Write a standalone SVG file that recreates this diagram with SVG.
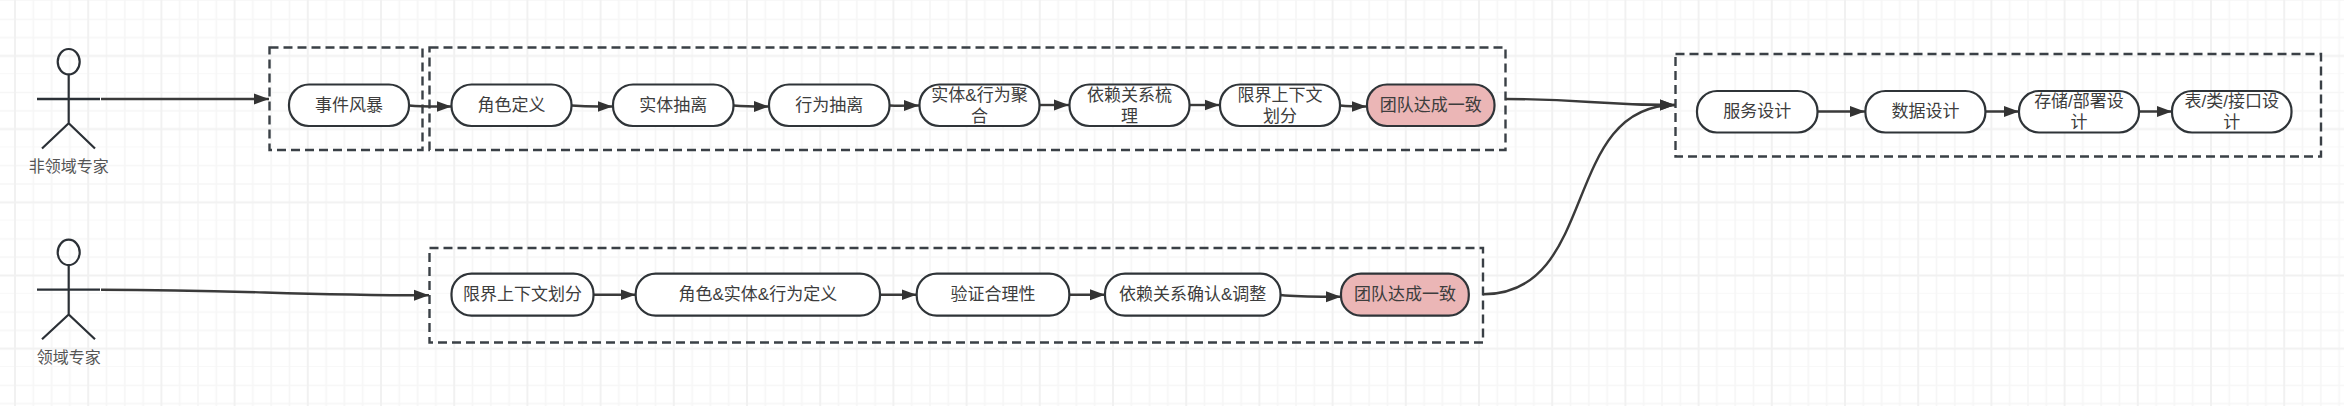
<svg xmlns="http://www.w3.org/2000/svg" width="2344" height="406" viewBox="0 0 2344 406">
<style>
.t{font-family:"Liberation Sans","Noto Sans CJK SC",sans-serif;font-size:17px;fill:#3d3d3d;text-anchor:middle;dominant-baseline:central}
.a{font-size:16px;fill:#555}
.n{fill:#fff;stroke:#2f3438;stroke-width:2.2}
.p{fill:#ebb6b6}
.d{fill:none;stroke:#3a4046;stroke-width:2.4;stroke-dasharray:9 5}
.c{fill:none;stroke:#3a3a3a;stroke-width:2.4;marker-end:url(#ah)}
.s{fill:none;stroke:#2b3036;stroke-width:2.2}
.w{stroke:#2b3036;stroke-width:2.6}
</style>
<defs>
<marker id="ah" markerUnits="userSpaceOnUse" markerWidth="16" markerHeight="12" refX="15" refY="6" orient="auto"><path d="M0,0.5L15,6L0,11.5Z" fill="#333"/></marker>
<pattern id="g" patternUnits="userSpaceOnUse" x="15" y="1" width="73.2" height="73.2">
<path d="M18.3,0V73.2M36.6,0V73.2M54.9,0V73.2M0,18.3H73.2M0,36.6H73.2M0,73.2H73.2" stroke="#f6f6f6" stroke-width="1.6" fill="none"/>
<path d="M0,0V73.2M73.2,0V73.2M0,54.9H73.2" stroke="#f1f1f1" stroke-width="2" fill="none"/>
</pattern>
</defs>
<rect id="background" width="2344" height="406" fill="#fff"/>
<rect id="grid" width="2344" height="406" fill="url(#g)"/>
<g id="group-storm"><rect class="d" x="269.5" y="47.5" width="153" height="102.5"/></g>
<g id="group-nonexpert"><rect class="d" x="429.5" y="47.5" width="1076" height="102.5"/></g>
<g id="group-expert"><rect class="d" x="429.5" y="248" width="1053.5" height="94.5"/></g>
<g id="group-design"><rect class="d" x="1675.5" y="54" width="645.5" height="102.5"/></g>
<g id="connectors">
<path class="c" d="M101,99H269"/>
<path class="c" d="M409,105.5C425,107 435,106.5 451.5,106.5"/>
<path class="c" d="M571.5,105.5C590,107 595,106.5 612.5,106.5"/>
<path class="c" d="M733.5,105.5C748,106.5 755,106.5 769,106.5"/>
<path class="c" d="M890,105.5C900,106 908,105.5 919,105.5"/>
<path class="c" d="M1040,105H1069"/>
<path class="c" d="M1190,105H1219.5"/>
<path class="c" d="M1340,105.5C1350,106.5 1355,106.5 1366.5,106.5"/>
<path class="c" d="M1505.5,99C1590,99 1590,105 1675,105"/>
<path class="c" d="M1817.5,111.5H1865"/>
<path class="c" d="M1985.5,111.5H2019"/>
<path class="c" d="M2139,111.5H2172"/>
<path class="c" d="M101,289.7C250,289.7 280,295.3 429,295.3"/>
<path class="c" d="M593.5,294.7H635.5"/>
<path class="c" d="M880,294.7H916.5"/>
<path class="c" d="M1069.5,294.7H1105"/>
<path class="c" d="M1280.5,295C1300,297 1315,296.7 1341,296.7"/>
<path class="c" d="M1483,294.3C1600,294.3 1560,105 1675,105"/>
</g>
<g id="actor-nonexpert"><ellipse class="s" cx="68.7" cy="61.7" rx="11" ry="12.7"/><path class="s" d="M68.7,74.4V123.3M42,148.5L68.7,123.3L95,148.5"/><path class="w" d="M37,99H100"/><text class="t a" x="68.7" y="166.5">非领域专家</text></g>
<g id="actor-expert"><ellipse class="s" cx="68.7" cy="252.4" rx="11" ry="12.7"/><path class="s" d="M68.7,265V314.5M42,339.3L68.7,314.5L95,339.3"/><path class="s" d="M37,289.7H100"/><text class="t a" x="68.7" y="357.5">领域专家</text></g>
<g id="n1"><rect class="n" x="289" y="84.5" width="120" height="41.5" rx="20"/><text class="t" x="349" y="105.5">事件风暴</text></g>
<g id="n2"><rect class="n" x="451.5" y="84.5" width="120" height="41.5" rx="20"/><text class="t" x="511.5" y="105.5">角色定义</text></g>
<g id="n3"><rect class="n" x="613" y="84.5" width="120.5" height="41.5" rx="20"/><text class="t" x="673.2" y="105.5">实体抽离</text></g>
<g id="n4"><rect class="n" x="769" y="84.5" width="120.5" height="41.5" rx="20"/><text class="t" x="829.2" y="105.5">行为抽离</text></g>
<g id="n5"><rect class="n" x="919.5" y="84.5" width="120" height="41.5" rx="20"/><text class="t" x="979.5" y="95">实体&amp;行为聚</text><text class="t" x="979.5" y="116">合</text></g>
<g id="n6"><rect class="n" x="1069.5" y="84.5" width="120" height="41.5" rx="20"/><text class="t" x="1129.5" y="95">依赖关系梳</text><text class="t" x="1129.5" y="116">理</text></g>
<g id="n7"><rect class="n" x="1220" y="84.5" width="120" height="41.5" rx="20"/><text class="t" x="1280" y="95">限界上下文</text><text class="t" x="1280" y="116">划分</text></g>
<g id="n8"><rect class="n p" x="1367" y="84.5" width="127.5" height="41.5" rx="20"/><text class="t" x="1430.7" y="105.5">团队达成一致</text></g>
<g id="n9"><rect class="n" x="451.5" y="273.7" width="142" height="42" rx="20"/><text class="t" x="522.5" y="294.7">限界上下文划分</text></g>
<g id="n10"><rect class="n" x="635.7" y="273.7" width="244.3" height="42" rx="20"/><text class="t" x="757.8" y="294.7">角色&amp;实体&amp;行为定义</text></g>
<g id="n11"><rect class="n" x="916.7" y="273.7" width="152.6" height="42" rx="20"/><text class="t" x="993" y="294.7">验证合理性</text></g>
<g id="n12"><rect class="n" x="1105" y="273.7" width="175.5" height="42" rx="20"/><text class="t" x="1192.7" y="294.7">依赖关系确认&amp;调整</text></g>
<g id="n13"><rect class="n p" x="1341" y="273.7" width="127.8" height="42" rx="20"/><text class="t" x="1404.9" y="294.7">团队达成一致</text></g>
<g id="n14"><rect class="n" x="1697" y="91" width="120.5" height="41.5" rx="20"/><text class="t" x="1757.2" y="111.7">服务设计</text></g>
<g id="n15"><rect class="n" x="1865.4" y="91" width="120" height="41.5" rx="20"/><text class="t" x="1925.4" y="111.7">数据设计</text></g>
<g id="n16"><rect class="n" x="2019" y="91" width="120" height="41.5" rx="20"/><text class="t" x="2079" y="101.5">存储/部署设</text><text class="t" x="2079" y="122.5">计</text></g>
<g id="n17"><rect class="n" x="2172" y="91" width="119.5" height="41.5" rx="20"/><text class="t" x="2231.7" y="101.5">表/类/接口设</text><text class="t" x="2231.7" y="122.5">计</text></g>
</svg>
